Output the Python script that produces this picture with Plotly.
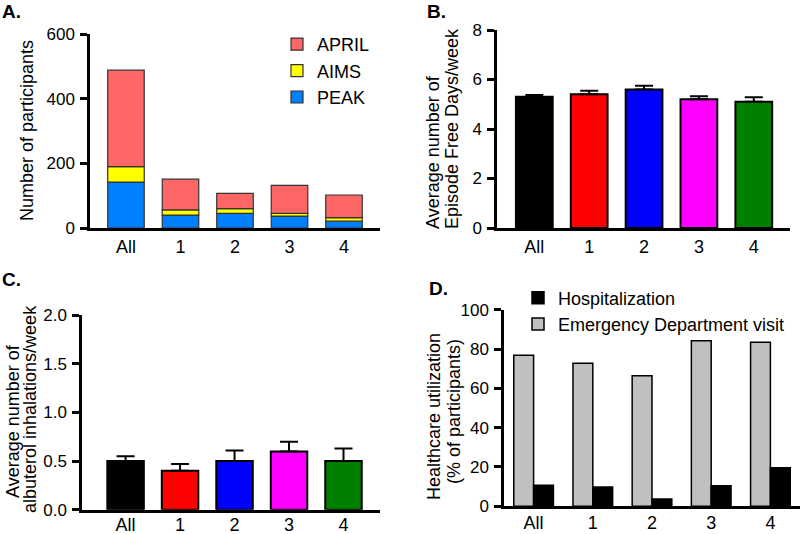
import plotly.graph_objects as go

# ---------------- data ----------------
groups = ["All", "1", "2", "3", "4"]

# Panel A: number of participants per study
peak = [142, 40, 45, 37, 21]
aims = [48, 16, 15, 8, 11]
april = [298, 95, 47, 87, 70]

# Panel B: episode free days / week
efd_mean = [5.3, 5.4, 5.6, 5.2, 5.1]
efd_err = [0.07, 0.15, 0.15, 0.12, 0.18]

# Panel C: albuterol inhalations / week
alb_mean = [0.5, 0.4, 0.5, 0.6, 0.5]
alb_err = [0.05, 0.07, 0.11, 0.10, 0.13]

# Panel D: healthcare utilization (% of participants)
ed_visit = [76.8, 72.7, 66.4, 84.2, 83.4]
hospital = [10.7, 9.8, 3.7, 10.5, 19.6]

group_colors = ["#000000", "#ff0000", "#0000ff", "#ff00ff", "#008000"]

FONT = "Arial, Liberation Sans, sans-serif"
W, H = 800, 534

fig = go.Figure()

# ---- Panel A (stacked via base) ----
base_aims = [p for p in peak]
base_april = [p + a for p, a in zip(peak, aims)]
fig.add_trace(go.Bar(x=groups, y=peak, name="PEAK", marker=dict(color="#0080ff", line=dict(color="#333333", width=1.2)),
                     offsetgroup="a", xaxis="x", yaxis="y", legend="legend"))
fig.add_trace(go.Bar(x=groups, y=aims, base=base_aims, name="AIMS", marker=dict(color="#ffff00", line=dict(color="#333333", width=1.2)),
                     offsetgroup="a", xaxis="x", yaxis="y", legend="legend"))
fig.add_trace(go.Bar(x=groups, y=april, base=base_april, name="APRIL", marker=dict(color="#ff6666", line=dict(color="#333333", width=1.2)),
                     offsetgroup="a", xaxis="x", yaxis="y", legend="legend"))

# ---- Panel B ----
fig.add_trace(go.Bar(x=groups, y=efd_mean, marker=dict(color=group_colors, line=dict(color="black", width=2)),
                     error_y=dict(type="data", array=efd_err, arrayminus=[0]*len(efd_err), symmetric=False,
                                  color="black", thickness=2, width=9),
                     showlegend=False, xaxis="x2", yaxis="y2"))

# ---- Panel C ----
fig.add_trace(go.Bar(x=groups, y=alb_mean, marker=dict(color=group_colors, line=dict(color="black", width=2)),
                     error_y=dict(type="data", array=alb_err, arrayminus=[0]*len(alb_err), symmetric=False,
                                  color="black", thickness=2, width=9),
                     showlegend=False, xaxis="x3", yaxis="y3"))

# ---- Panel D ----
fig.add_trace(go.Bar(x=groups, y=ed_visit, name="Emergency Department visit",
                     marker=dict(color="#c0c0c0", line=dict(color="black", width=1.5)),
                     xaxis="x4", yaxis="y4", legend="legend2"))
fig.add_trace(go.Bar(x=groups, y=hospital, name="Hospitalization",
                     marker=dict(color="#000000", line=dict(color="black", width=1.5)),
                     xaxis="x4", yaxis="y4", legend="legend2"))


def px_x(v):
    return v / W


def px_y(v):
    return 1 - v / H


axis_common = dict(showgrid=False, zeroline=False, showline=True, linecolor="black", linewidth=2.5,
                   automargin=False)

xcommon = dict(axis_common, type="category", ticks="", ticklabelstandoff=1,
               tickfont=dict(family=FONT, size=18, color="black"))
ycommon = dict(axis_common, ticks="outside", ticklen=7, tickwidth=2.5, tickcolor="black", ticklabelstandoff=2,
               tickfont=dict(family=FONT, size=17, color="black"))

layout = dict(
    width=W, height=H, margin=dict(l=0, r=0, t=0, b=0, autoexpand=False),
    paper_bgcolor="white", plot_bgcolor="white",
    barmode="group", bargap=0.33, bargroupgap=0,
    font=dict(family=FONT, color="black", size=18),
    xaxis=dict(xcommon, domain=[px_x(90), px_x(380)], range=[-0.66, 4.66], anchor="y"),
    yaxis=dict(ycommon, domain=[px_y(228), px_y(34)], range=[0, 600], dtick=200, anchor="x"),
    xaxis2=dict(xcommon, domain=[px_x(497), px_x(790)], range=[-0.68, 4.66], anchor="y2"),
    yaxis2=dict(ycommon, domain=[px_y(228), px_y(30)], range=[0, 8], dtick=2, anchor="x2"),
    xaxis3=dict(xcommon, domain=[px_x(82), px_x(380)], range=[-0.8, 4.67], anchor="y3", ticklabelstandoff=-3),
    yaxis3=dict(ycommon, domain=[px_y(509.7), px_y(315.3)], range=[0, 2], dtick=0.5, tickformat=".1f", anchor="x3"),
    xaxis4=dict(xcommon, domain=[px_x(504), 1.0], range=[-0.5, 4.5], anchor="y4", ticklabelstandoff=-2),
    yaxis4=dict(ycommon, domain=[px_y(506.3), px_y(309.7)], range=[0, 100], dtick=20, anchor="x4"),
    legend=dict(x=px_x(277), y=px_y(71), xanchor="left", yanchor="middle", traceorder="reversed",
                font=dict(family=FONT, size=18, color="black"), bgcolor="rgba(0,0,0,0)", borderwidth=0),
    legend2=dict(x=px_x(518), y=px_y(311), xanchor="left", yanchor="middle", traceorder="reversed",
                 font=dict(family=FONT, size=18, color="black"), bgcolor="rgba(0,0,0,0)", borderwidth=0),
    showlegend=True,
)
fig.update_layout(layout)

annots = []
# panel letters
for txt, x, y in [("A.", 0, 11), ("B.", 425, 11), ("C.", 0, 279), ("D.", 427, 288)]:
    annots.append(dict(text="<b>%s</b>" % txt, x=px_x(x), y=px_y(y), xref="paper", yref="paper",
                       xanchor="left", yanchor="middle", showarrow=False,
                       font=dict(family=FONT, size=19, color="black")))
# y-axis titles
for txt, x, y in [("Number of participants", 27, 131),
                  ("Average number of", 433, 152), ("Episode Free Days/week", 452, 128),
                  ("Average number of", 13, 421), ("albuterol inhalations/week", 30, 409),
                  ("Healthcare utilization", 434, 417), ("(% of participants)", 454, 412)]:
    annots.append(dict(text=txt, x=px_x(x), y=px_y(y), xref="paper", yref="paper",
                       xanchor="center", yanchor="middle", textangle=-90, showarrow=False,
                       font=dict(family=FONT, size=18, color="black")))
fig.update_layout(annotations=annots)

fig.write_html("out.html", config={"displayModeBar": False},
               post_script="document.body.style.margin='0px';document.body.style.padding='0px';")
